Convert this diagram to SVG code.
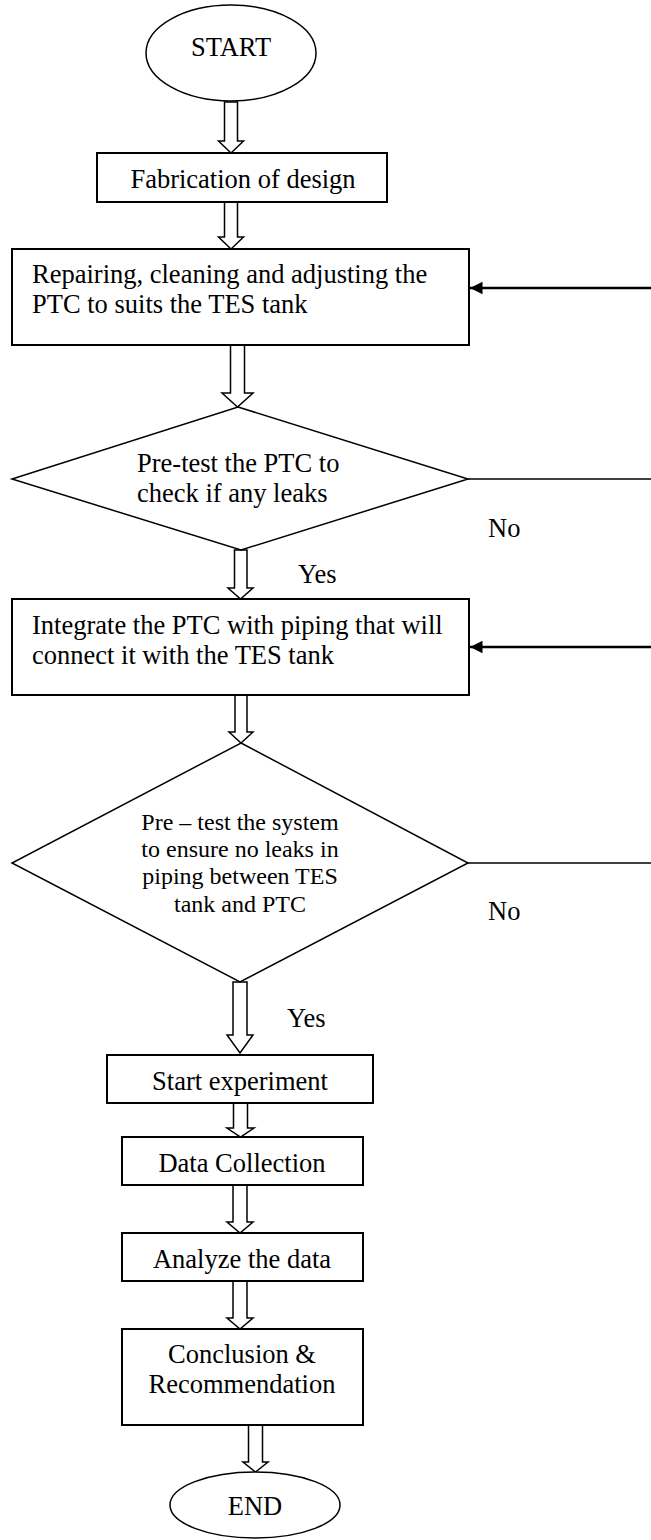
<svg xmlns="http://www.w3.org/2000/svg" width="651" height="1540" viewBox="0 0 651 1540">
<style>
text{font-family:"Liberation Serif","Times New Roman",serif;font-size:26.5px;fill:#000}
.c{text-anchor:middle}
.sm{font-size:24px}
.box{fill:#fff;stroke:#000;stroke-width:2}
.dia{fill:#fff;stroke:#000;stroke-width:1.5}
.ha{fill:#fff;stroke:#000;stroke-width:1.5;stroke-linejoin:miter}
.fb{fill:none;stroke:#000;stroke-width:2.5}
.ln{fill:none;stroke:#000;stroke-width:1.5}
</style>
<defs>
<marker id="ah" viewBox="0 0 10 10" refX="10" refY="5" markerWidth="6" markerHeight="5" markerUnits="strokeWidth" orient="auto">
<path d="M0,0 L10,5 L0,10 z" fill="#000"/>
</marker>
</defs>
<rect width="651" height="1540" fill="#fff"/>
<g id="connectors">
<polygon class="ha" points="224.5,102 237.5,102 237.5,141 243.5,141 231,153 218.5,141 224.5,141"/>
<polygon class="ha" points="224.5,202 237.5,202 237.5,237 243.5,237 231,249 218.5,237 224.5,237"/>
<polygon class="ha" points="230.5,345 244.5,345 244.5,393 253,393 237.5,407 222,393 230.5,393"/>
<polygon class="ha" points="234.5,550 247,550 247,588 253,588 240.5,599 228,588 234.5,588"/>
<polygon class="ha" points="235,695 247,695 247,732 253,732 241,743 229,732 235,732"/>
<polygon class="ha" points="233,982 247,982 247,1035 253,1035 240,1053 227,1035 233,1035"/>
<polygon class="ha" points="233.5,1103 247.5,1103 247.5,1128 254,1128 240.5,1137 227,1128 233.5,1128"/>
<polygon class="ha" points="233,1185 247,1185 247,1222 253,1222 240,1233 227,1222 233,1222"/>
<polygon class="ha" points="233,1281 247,1281 247,1318 253,1318 240,1329 227,1318 233,1318"/>
<polygon class="ha" points="248.5,1425 262.5,1425 262.5,1462 268,1462 255.5,1472 243,1462 248.5,1462"/>
<line class="fb" x1="651" y1="288" x2="470" y2="288" marker-end="url(#ah)"/>
<line class="fb" x1="651" y1="647" x2="470" y2="647" marker-end="url(#ah)"/>
<line class="ln" x1="468" y1="479" x2="651" y2="479"/>
<line class="ln" x1="468" y1="863" x2="651" y2="863"/>
<text x="488" y="537">No</text>
<text x="488" y="920">No</text>
<text x="298" y="583">Yes</text>
<text x="287" y="1027">Yes</text>
</g>
<g id="start">
<ellipse class="dia" cx="231" cy="53" rx="85" ry="48"/>
<text class="c" x="231" y="56">START</text>
</g>
<g id="fabrication">
<rect class="box" x="97" y="153" width="290" height="49"/>
<text class="c" x="243" y="188">Fabrication of design</text>
</g>
<g id="repair">
<rect class="box" x="12" y="249" width="457" height="96"/>
<text x="32" y="283">Repairing, cleaning and adjusting the</text>
<text x="32" y="313">PTC to suits the TES tank</text>
</g>
<g id="pretest1">
<polygon class="dia" points="238,407 468,479 241,550 12,479"/>
<text x="137" y="472">Pre-test the PTC to</text>
<text x="137" y="502">check if any leaks</text>
</g>
<g id="integrate">
<rect class="box" x="12" y="599" width="457" height="96"/>
<text x="32" y="634">Integrate the PTC with piping that will</text>
<text x="32" y="664">connect it with the TES tank</text>
</g>
<g id="pretest2">
<polygon class="dia" points="241,743 468,863 240,982 12,863"/>
<text class="c sm" x="240" y="830">Pre – test the system</text>
<text class="c sm" x="240" y="857">to ensure no leaks in</text>
<text class="c sm" x="240" y="884">piping between TES</text>
<text class="c sm" x="240" y="912">tank and PTC</text>
</g>
<g id="experiment">
<rect class="box" x="107" y="1055" width="266" height="48"/>
<text class="c" x="240" y="1090">Start experiment</text>
</g>
<g id="collection">
<rect class="box" x="122" y="1137" width="241" height="48"/>
<text class="c" x="242" y="1172">Data Collection</text>
</g>
<g id="analyze">
<rect class="box" x="122" y="1233" width="241" height="48"/>
<text class="c" x="242" y="1268">Analyze the data</text>
</g>
<g id="conclusion">
<rect class="box" x="122" y="1329" width="241" height="96"/>
<text class="c" x="242" y="1363">Conclusion &amp;</text>
<text class="c" x="242" y="1393">Recommendation</text>
</g>
<g id="end">
<ellipse class="dia" cx="255" cy="1505" rx="85" ry="33"/>
<text class="c" x="255" y="1515">END</text>
</g>
</svg>
